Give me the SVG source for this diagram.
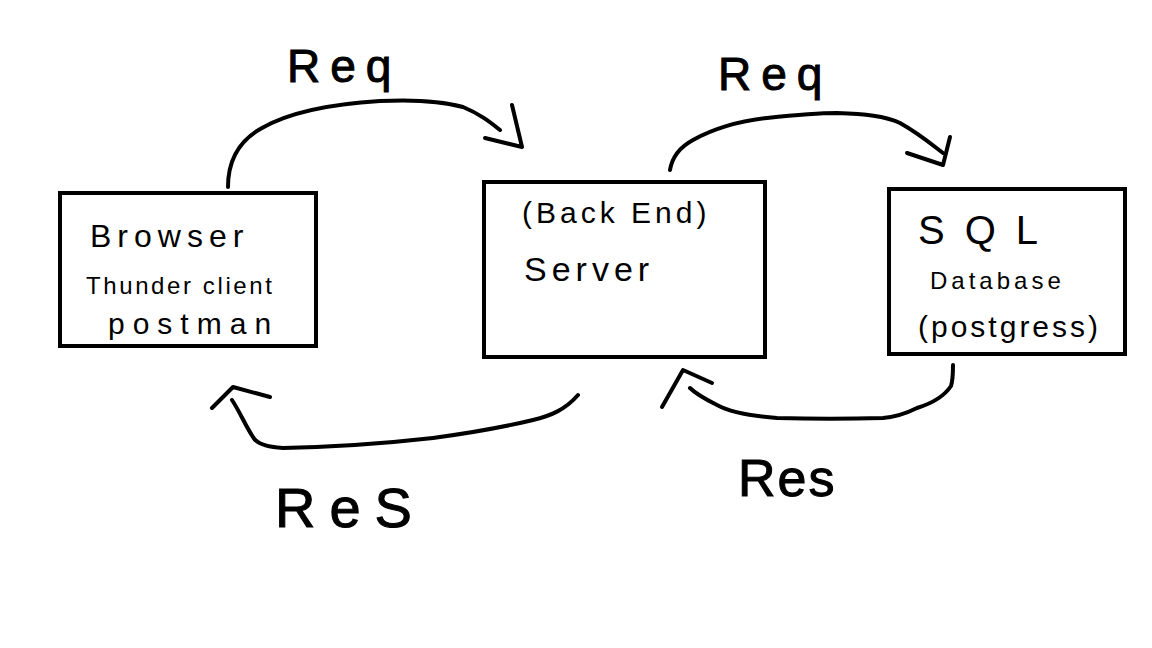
<svg xmlns="http://www.w3.org/2000/svg" width="1152" height="648" viewBox="0 0 1152 648">
<style>
.box{fill:#fff;stroke:#000;stroke-width:4}
.t{font-family:"Liberation Sans","DejaVu Sans",sans-serif;fill:#000;font-weight:300}
.lbl{font-family:"Liberation Sans","DejaVu Sans",sans-serif;fill:#000;stroke:#000;stroke-width:1}
.c{fill:none;stroke:#000;stroke-width:4;stroke-linecap:round;stroke-linejoin:round}
</style>
<rect width="1152" height="648" fill="#fff"/>
<g id="browser">
<rect class="box" x="60" y="193" width="256" height="153"/>
<text class="t" x="90" y="247" font-size="32" letter-spacing="6">Browser</text>
<text class="t" x="86" y="294" font-size="24" letter-spacing="2.6">Thunder client</text>
<text class="t" x="108" y="334" font-size="30" letter-spacing="8">postman</text>
</g>
<g id="server">
<rect class="box" x="484" y="182" width="281" height="175"/>
<text class="t" x="522" y="223" font-size="30" letter-spacing="4">(Back End)</text>
<text class="t" x="524" y="281" font-size="34" letter-spacing="5">Server</text>
</g>
<g id="database">
<rect class="box" x="889" y="189" width="236" height="165"/>
<text class="t" x="918" y="244" font-size="40" letter-spacing="20">SQL</text>
<text class="t" x="930" y="289" font-size="24" letter-spacing="4">Database</text>
<text class="t" x="918" y="337" font-size="30" letter-spacing="3">(postgress)</text>
</g>
<g id="connectors">
<path class="c" d="M228,187 C228,160 240,140 262,128 C290,112 330,104 380,101 C420,99 445,102 463,107 C480,114 490,122 500,130"/>
<path class="c" d="M512,105 L522,147 L485,138"/>
<path class="c" d="M670,170 C672,158 680,147 693,140 C715,128 740,121 767,118 C795,115 815,113 837,113 C865,114 885,116 900,123 C918,133 930,143 943,153"/>
<path class="c" d="M950,137 L943,165 L907,153"/>
<path class="c" d="M578,395 C565,410 550,416 533,420 C500,428 470,433 433,438 C380,444 330,447 283,448 C265,447 256,443 253,437 C245,425 240,412 232,400"/>
<path class="c" d="M212,408 L233,387 L270,397"/>
<path class="c" d="M953,365 C953,374 953,380 951,386 C943,398 930,404 917,408 C905,414 895,417 883,418 C850,419 810,419 777,418 C750,416 730,412 717,405 C705,399 695,393 690,388"/>
<path class="c" d="M662,407 L683,370 L712,383"/>
</g>
<g id="labels">
<text class="lbl" x="287" y="82" font-size="46" letter-spacing="10">Req</text>
<text class="lbl" x="718" y="90" font-size="46" letter-spacing="10">Req</text>
<text class="lbl" x="275" y="527" font-size="56" letter-spacing="14">ReS</text>
<text class="lbl" x="738" y="496" font-size="52" letter-spacing="2">Res</text>
</g>
</svg>
